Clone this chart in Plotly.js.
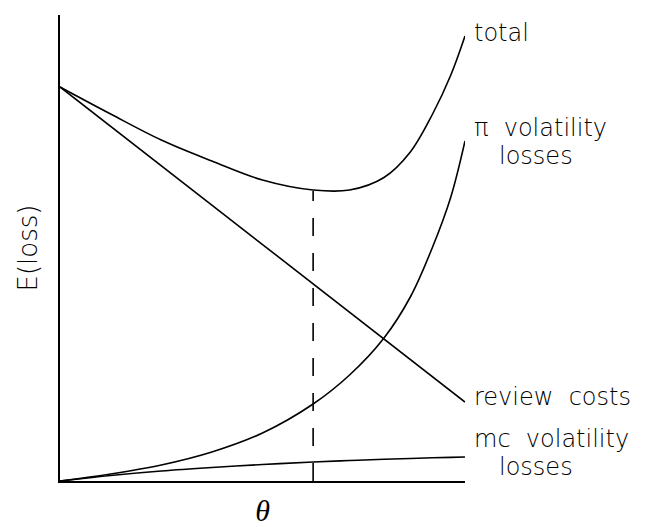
<!DOCTYPE html>
<html>
<head>
<meta charset="utf-8">
<script src="https://cdn.plot.ly/plotly-3.0.1.min.js"></script>
<style>
  html, body { margin: 0; padding: 0; background: #fff; }
  #chart { width: 649px; height: 527px; }
</style>
</head>
<body>
<div id="chart"></div>
<script>
// theta grid (0..10) and expected losses
var theta = [0, 1.25, 2.5, 3.75, 5, 6.25, 7.15, 8, 8.65, 9.2, 9.65, 10];
var piLosses = [0, 7, 16, 29, 48, 77, 106, 143, 184, 234, 284, 340];
var mcLosses = [0, 5.5, 10, 13.5, 16.5, 19, 20.5, 21.7, 22.5, 23.2, 23.6, 24];
var totalLoss = [394, 367, 341, 320, 301, 291, 291, 303.5, 329, 367, 406, 445];
var reviewTheta = [0, 10];
var reviewCosts = [394, 79];
var thetaStar = 6.25;
var thetaStarTotal = 290;

var labelText = ['total', '\u03c0&nbsp; volatility', 'losses', 'review&nbsp; costs', 'mc&nbsp; volatility', 'losses'];
var labelX = [1.017, 1.017, 1.079, 1.017, 1.017, 1.079];
var labelY = [448, 353, 325, 84, 42, 14];

var lineStyle = {color: '#000', width: 1.6};
var labelFont = {family: 'DejaVu Sans', size: 24, color: '#000', weight: 200};

var data = [
    {x: reviewTheta, y: reviewCosts, mode: 'lines', line: lineStyle, name: 'review costs'},
    {x: theta, y: piLosses, mode: 'lines', line: Object.assign({shape: 'spline'}, lineStyle), name: '\u03c0 volatility losses'},
    {x: theta, y: mcLosses, mode: 'lines', line: Object.assign({shape: 'spline'}, lineStyle), name: 'mc volatility losses'},
    {x: theta, y: totalLoss, mode: 'lines', line: Object.assign({shape: 'spline'}, lineStyle), name: 'total'}
];

var annotations = labelText.map(function (t, i) {
    return {
        x: labelX[i], y: labelY[i], xref: 'paper', yref: 'y',
        text: t, showarrow: false, xanchor: 'left', yanchor: 'middle',
        font: labelFont
    };
});

var layout = {
    width: 649,
    height: 527,
    margin: {l: 60, r: 184, t: 15, b: 46},
    paper_bgcolor: '#fff',
    plot_bgcolor: '#fff',
    showlegend: false,
    xaxis: {
        range: [0, 10],
        showline: true, linecolor: '#000', linewidth: 2,
        showgrid: false, zeroline: false, showticklabels: false, ticks: '',
        title: {text: '<i>\u03b8</i>', font: {family: 'Liberation Serif', size: 30, color: '#000'}, standoff: 26}
    },
    yaxis: {
        range: [0, 466],
        showline: true, linecolor: '#000', linewidth: 2,
        showgrid: false, zeroline: false, showticklabels: false, ticks: '',
        title: {text: 'E(loss)', font: {family: 'DejaVu Sans', size: 26, color: '#000', weight: 300}, standoff: 13}
    },
    shapes: [{
        type: 'line', xref: 'x', yref: 'y',
        x0: thetaStar, x1: thetaStar, y0: 0, y1: thetaStarTotal,
        line: {color: '#000', width: 1.6, dash: '18px,17px'}
    }],
    annotations: annotations
};

Plotly.newPlot('chart', data, layout, {staticPlot: true});
</script>
</body>
</html>
